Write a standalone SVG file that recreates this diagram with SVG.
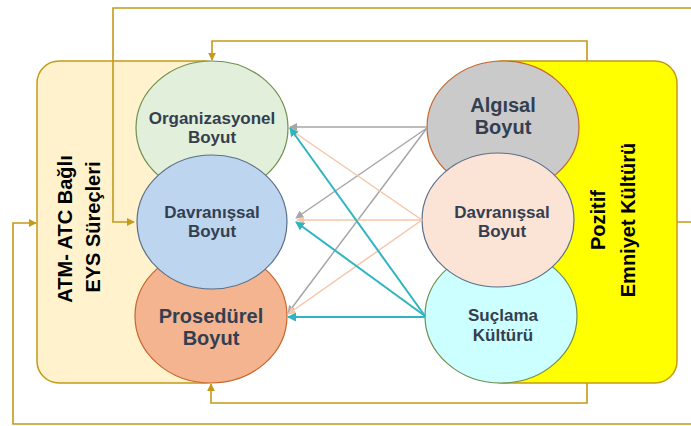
<svg xmlns="http://www.w3.org/2000/svg" width="691" height="426" viewBox="0 0 691 426">
<style>
.lbl{font-family:"Liberation Sans",Arial,sans-serif;font-weight:bold;fill:#333F50;text-anchor:middle}
.vlbl{font-family:"Liberation Sans",Arial,sans-serif;font-weight:bold;fill:#000;text-anchor:middle;font-size:20px}
.gold{fill:none;stroke:#C49A18;stroke-width:1.6}
.gray{stroke:#A6A6A6;stroke-width:1.5;fill:none}
.peach{stroke:#F6C6A8;stroke-width:1.5;fill:none}
.teal{stroke:#2FB5C0;stroke-width:2;fill:none}
</style>
<defs>
<marker id="ag" viewBox="0 0 10 10" refX="9" refY="5" markerWidth="8" markerHeight="8" markerUnits="userSpaceOnUse" orient="auto"><path d="M0,0L10,5L0,10z" fill="#C49A18"/></marker>
<marker id="ay" viewBox="0 0 10 10" refX="9" refY="5" markerWidth="8" markerHeight="8" markerUnits="userSpaceOnUse" orient="auto"><path d="M0,0L10,5L0,10z" fill="#A6A6A6"/></marker>
<marker id="ap" viewBox="0 0 10 10" refX="9" refY="5" markerWidth="8" markerHeight="8" markerUnits="userSpaceOnUse" orient="auto"><path d="M0,0L10,5L0,10z" fill="#F6C6A8"/></marker>
<marker id="at" viewBox="0 0 10 10" refX="9" refY="5" markerWidth="9" markerHeight="9" markerUnits="userSpaceOnUse" orient="auto"><path d="M0,0L10,5L0,10z" fill="#2FB5C0"/></marker>
</defs>
<rect width="691" height="426" fill="#fff"/>
<g id="atm">
<rect x="37" y="61" width="190" height="322" rx="22" fill="#FFF2CC" stroke="#C49A18" stroke-width="1.5"/>
<text class="vlbl" transform="translate(72,229) rotate(-90)">ATM- ATC Bağlı</text>
<text class="vlbl" transform="translate(100,227) rotate(-90)">EYS Süreçleri</text>
</g>
<g id="pozitif">
<rect x="480" y="61" width="197" height="322" rx="22" fill="#FFFF00" stroke="#C49A18" stroke-width="1.5"/>
<text class="vlbl" transform="translate(605,220) rotate(-90)">Pozitif</text>
<text class="vlbl" transform="translate(635,220) rotate(-90)">Emniyet Kültürü</text>
</g>
<g id="organizasyonel">
<ellipse cx="212" cy="128" rx="76" ry="67" fill="#E2EFDA" stroke="#6F8F4E" stroke-width="1.2"/>
<text class="lbl" x="212" y="124" font-size="17">Organizasyonel</text>
<text class="lbl" x="212" y="143" font-size="17">Boyut</text>
</g>
<g id="prosedurel">
<ellipse cx="211" cy="316" rx="76" ry="67" fill="#F4B490" stroke="#C5652A" stroke-width="1.2"/>
<text class="lbl" x="211" y="323" font-size="20">Prosedürel</text>
<text class="lbl" x="211" y="345" font-size="20">Boyut</text>
</g>
<g id="davranissal-l">
<ellipse cx="212" cy="222" rx="75" ry="67" fill="#BDD5EE" stroke="#5A6F8A" stroke-width="1.2"/>
<text class="lbl" x="212" y="218" font-size="17">Davranışsal</text>
<text class="lbl" x="212" y="237" font-size="17">Boyut</text>
</g>
<g id="algisal">
<ellipse cx="503" cy="127" rx="76" ry="66" fill="#CACACA" stroke="#C5652A" stroke-width="1.2"/>
<text class="lbl" x="503" y="112" font-size="20">Algısal</text>
<text class="lbl" x="503" y="134" font-size="20">Boyut</text>
</g>
<g id="suclama">
<ellipse cx="501" cy="316" rx="76" ry="67" fill="#CCFFFF" stroke="#6F8F4E" stroke-width="1.2"/>
<text class="lbl" x="503" y="321" font-size="17">Suçlama</text>
<text class="lbl" x="503" y="341" font-size="17">Kültürü</text>
</g>
<g id="davranissal-r">
<ellipse cx="498" cy="220" rx="76" ry="67" fill="#FBE3D6" stroke="#5A6F8A" stroke-width="1.2"/>
<text class="lbl" x="502" y="218" font-size="17">Davranışsal</text>
<text class="lbl" x="502" y="237" font-size="17">Boyut</text>
</g>
<g id="connectors">
<path class="gold" d="M677,222H695M695,8H113V222H134" marker-end="url(#ag)"/>
<path class="gold" d="M587,61V41H212V60" marker-end="url(#ag)"/>
<path class="gold" d="M587,383V403H211V384" marker-end="url(#ag)"/>
<path class="gold" d="M695,424H13V223H36" marker-end="url(#ag)"/>
<path class="gray" d="M427,127H290" marker-end="url(#ay)"/>
<path class="gray" d="M427,128L296,218" marker-end="url(#ay)"/>
<path class="gray" d="M427,128L288,313" marker-end="url(#ay)"/>
<path class="peach" d="M422,220L291,130" marker-end="url(#ap)"/>
<path class="peach" d="M422,220H297" marker-end="url(#ap)"/>
<path class="peach" d="M422,220L288,314" marker-end="url(#ap)"/>
<path class="teal" d="M425,316L290,128" marker-end="url(#at)"/>
<path class="teal" d="M425,316L296,222" marker-end="url(#at)"/>
<path class="teal" d="M425,317H288" marker-end="url(#at)"/>
</g>
</svg>
